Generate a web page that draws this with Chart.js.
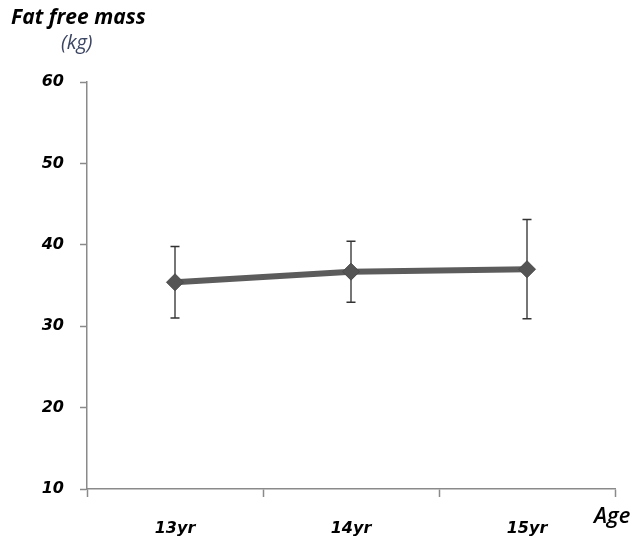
<!DOCTYPE html>
<html>
<head>
<meta charset="utf-8">
<script src="https://cdn.jsdelivr.net/npm/chart.js@4"></script>
<style>
  html, body { margin: 0; padding: 0; background: #fff; }
  #wrap { position: relative; width: 638px; height: 546px; }
  canvas { position: absolute; left: 0; top: 0; }
  .lbl { position: absolute; font-family: "Open Sans", sans-serif; font-style: italic; white-space: nowrap; line-height: 1; }
  #ytitle { left: 11px; top: 6px; font-size: 21px; font-weight: 700; color: #000; }
  #yunit { left: 61px; top: 32px; font-size: 20px; font-weight: 400; color: #3c4663; }
  #xtitle { left: 594px; top: 503px; font-size: 22px; font-weight: 600; color: #000; }
</style>
</head>
<body>
<div id="wrap">
  <canvas id="c" width="638" height="546"></canvas>
  <div class="lbl" id="ytitle">Fat free mass</div>
  <div class="lbl" id="yunit">(kg)</div>
  <div class="lbl" id="xtitle">Age</div>
</div>
<script>
// Age groups and fat free mass (kg): mean and standard deviation
const ages = ['13yr', '14yr', '15yr'];
const meanFFM = [35.4, 36.7, 37.0];
const sdFFM = [4.4, 3.75, 6.1];
const yTicks = [10, 20, 30, 40, 50, 60];

const tickFont = { family: '"DejaVu Sans", sans-serif', size: 16, style: 'italic', weight: 'bold' };

// Vertical error bars with caps, drawn beneath the line and markers
const errorBars = {
  id: 'errorBars',
  beforeDatasetsDraw(chart) {
    const { ctx, scales: { x, y } } = chart;
    ctx.save();
    meanFFM.forEach((m, i) => {
      const px = x.getPixelForValue(i);
      const top = y.getPixelForValue(m + sdFFM[i]);
      const bot = y.getPixelForValue(m - sdFFM[i]);
      ctx.strokeStyle = '#767676';
      ctx.lineWidth = 2;
      ctx.beginPath();
      ctx.moveTo(px, top);
      ctx.lineTo(px, bot);
      ctx.stroke();
      ctx.strokeStyle = '#333333';
      ctx.lineWidth = 1.5;
      ctx.beginPath();
      ctx.moveTo(px - 4.5, top); ctx.lineTo(px + 4.5, top);
      ctx.moveTo(px - 4.5, bot); ctx.lineTo(px + 4.5, bot);
      ctx.stroke();
    });
    ctx.restore();
  }
};

new Chart(document.getElementById('c'), {
  type: 'line',
  data: {
    labels: ages,
    datasets: [{
      data: meanFFM,
      borderColor: '#5c5c5c',
      borderWidth: 6,
      pointStyle: 'rectRot',
      pointRadius: 8.5,
      pointBackgroundColor: '#545454',
      pointBorderColor: '#4a4a4a',
      pointBorderWidth: 1,
      tension: 0
    }]
  },
  options: {
    responsive: false,
    animation: false,
    layout: { padding: { top: 82, right: 23, left: 0, bottom: 0 } },
    plugins: { legend: { display: false }, tooltip: { enabled: false } },
    scales: {
      x: {
        type: 'category',
        offset: true,
        grid: { offset: true, drawOnChartArea: false, drawTicks: true, tickLength: 8, color: '#8a8a8a', tickWidth: 1.5 },
        border: { color: '#8a8a8a', width: 1.5 },
        ticks: { color: '#000', font: tickFont, padding: 22 },
        afterFit(s) { s.height = 57; }
      },
      y: {
        min: 10, max: 60,
        afterBuildTicks(s) { s.ticks = yTicks.map(v => ({ value: v })); },
        grid: { drawOnChartArea: false, drawTicks: true, tickLength: 7, color: '#8a8a8a', tickWidth: 1.5 },
        border: { color: '#8a8a8a', width: 1.5 },
        ticks: { color: '#000', font: tickFont, padding: 16 },
        afterFit(s) { s.width = 87; }
      }
    }
  },
  plugins: [errorBars]
});
</script>
</body>
</html>
